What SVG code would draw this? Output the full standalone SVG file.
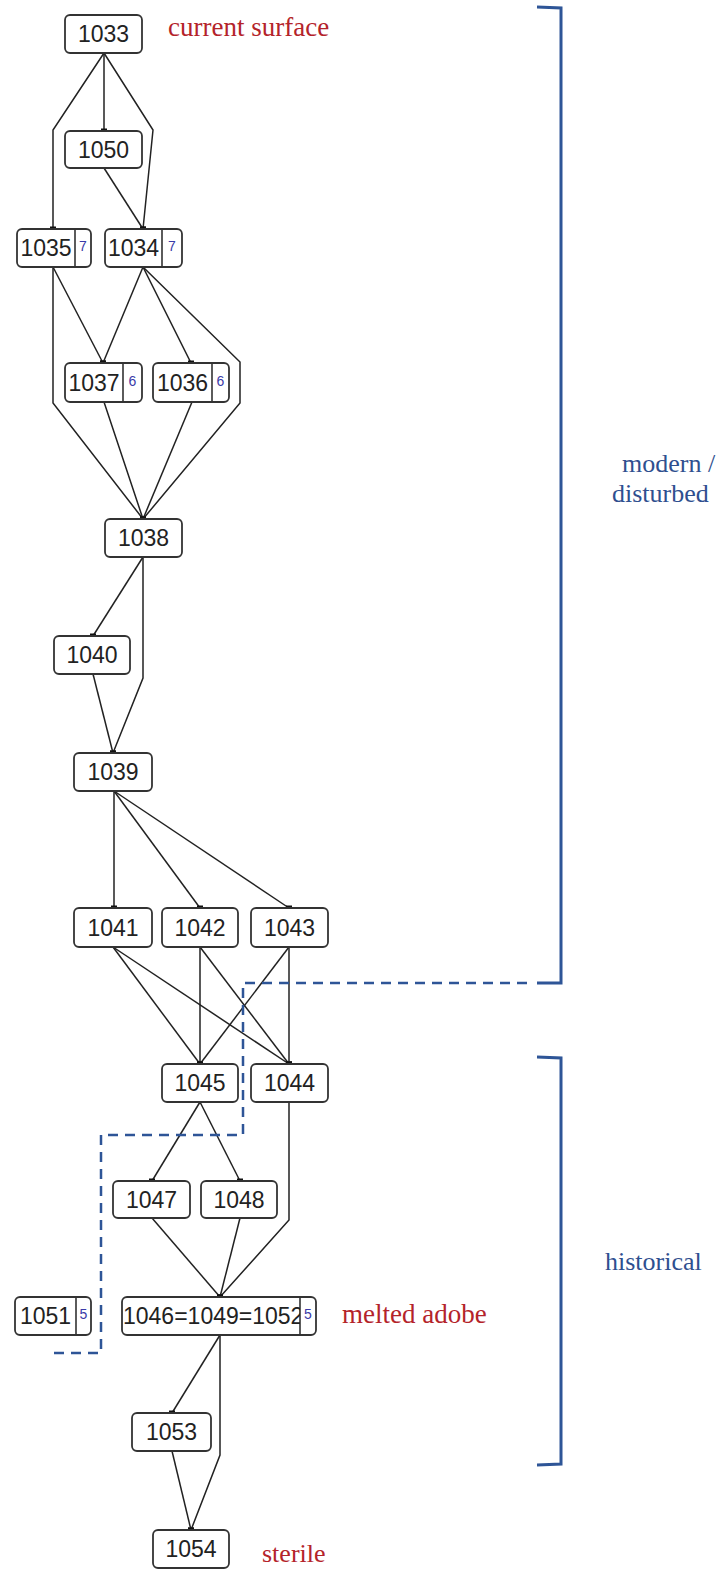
<svg xmlns="http://www.w3.org/2000/svg" width="726" height="1570" viewBox="0 0 726 1570">
<style>
.box{fill:#fff;stroke:#333;stroke-width:1.8}
.div{stroke:#333;stroke-width:1.6}
.lbl{font-family:"Liberation Sans",Arial,sans-serif;font-size:23px;fill:#222;text-anchor:middle}
.lblL{font-family:"Liberation Sans",Arial,sans-serif;font-size:23px;fill:#222}
.num{font-family:"Liberation Sans",Arial,sans-serif;font-size:14px;fill:#3a3aa8;text-anchor:middle}
.edge{fill:none;stroke:#222;stroke-width:1.5;marker-end:url(#dot)}
.red{font-family:"Liberation Serif","Times New Roman",serif;font-size:27px;fill:#b4232a}
.blue{font-family:"Liberation Serif","Times New Roman",serif;font-size:26px;fill:#2f4f8f}
.brk{fill:none;stroke:#2e5597;stroke-width:3}
.dash{fill:none;stroke:#2e5597;stroke-width:2.5;stroke-dasharray:10 7}
</style>
<defs>
<marker id="dot" markerUnits="userSpaceOnUse" markerWidth="8" markerHeight="8" refX="4" refY="4" orient="0">
<rect x="1" y="1.5" width="6" height="5" fill="#111"/>
</marker>
<clipPath id="clip1046"><rect x="122" y="1297" width="178" height="38"/></clipPath>
</defs>
<rect width="726" height="1570" fill="#fff"/>

<g id="connectors">
<path class="edge" d="M104,53 L53,130 L53,229"/>
<path class="edge" d="M104,53 L104,131"/>
<path class="edge" d="M104,53 L153,130 L143,229"/>
<path class="edge" d="M104,168 L143,229"/>
<path class="edge" d="M53,267 L103,363"/>
<path class="edge" d="M53,267 L53,403 L143,519"/>
<path class="edge" d="M143,267 L103,363"/>
<path class="edge" d="M143,267 L191,363"/>
<path class="edge" d="M143,267 L240,362 L240,403 L143,519"/>
<path class="edge" d="M104,402 L143,519"/>
<path class="edge" d="M192,402 L143,519"/>
<path class="edge" d="M143,557 L93,636"/>
<path class="edge" d="M143,557 L143,678 L113,753"/>
<path class="edge" d="M93,674 L113,753"/>
<path class="edge" d="M114,791 L114,908"/>
<path class="edge" d="M114,791 L200,908"/>
<path class="edge" d="M114,791 L289,908"/>
<path class="edge" d="M113,947 L200,1064"/>
<path class="edge" d="M113,947 L289,1064"/>
<path class="edge" d="M200,947 L200,1064"/>
<path class="edge" d="M200,947 L289,1064"/>
<path class="edge" d="M289,947 L200,1064"/>
<path class="edge" d="M289,947 L289,1064"/>
<path class="edge" d="M200,1102 L152,1181"/>
<path class="edge" d="M200,1102 L240,1181"/>
<path class="edge" d="M289,1102 L289,1220 L220,1297"/>
<path class="edge" d="M152,1218 L220,1297"/>
<path class="edge" d="M240,1218 L220,1297"/>
<path class="edge" d="M220,1335 L172,1413"/>
<path class="edge" d="M220,1335 L220,1455 L191,1530"/>
<path class="edge" d="M172,1451 L191,1530"/>
</g>

<g id="n1033"><rect class="box" x="65" y="15" width="77" height="38" rx="5"/><text class="lbl" x="103.5" y="42">1033</text></g>
<g id="n1050"><rect class="box" x="65" y="131" width="77" height="37" rx="5"/><text class="lbl" x="103.5" y="158">1050</text></g>
<g id="n1035"><rect class="box" x="17" y="229" width="74" height="38" rx="5"/><line class="div" x1="75" y1="229" x2="75" y2="267"/><text class="lbl" x="46" y="256">1035</text><text class="num" x="83" y="251">7</text></g>
<g id="n1034"><rect class="box" x="105" y="229" width="77" height="38" rx="5"/><line class="div" x1="162" y1="229" x2="162" y2="267"/><text class="lbl" x="133.5" y="256">1034</text><text class="num" x="172" y="251">7</text></g>
<g id="n1037"><rect class="box" x="65" y="363" width="77" height="39" rx="5"/><line class="div" x1="123" y1="363" x2="123" y2="402"/><text class="lbl" x="94" y="391">1037</text><text class="num" x="132.5" y="386">6</text></g>
<g id="n1036"><rect class="box" x="153" y="363" width="76" height="39" rx="5"/><line class="div" x1="212" y1="363" x2="212" y2="402"/><text class="lbl" x="182.5" y="391">1036</text><text class="num" x="220.5" y="386">6</text></g>
<g id="n1038"><rect class="box" x="105" y="519" width="77" height="38" rx="5"/><text class="lbl" x="143.5" y="546">1038</text></g>
<g id="n1040"><rect class="box" x="54" y="636" width="76" height="38" rx="5"/><text class="lbl" x="92" y="663">1040</text></g>
<g id="n1039"><rect class="box" x="74" y="753" width="78" height="38" rx="5"/><text class="lbl" x="113" y="780">1039</text></g>
<g id="n1041"><rect class="box" x="74" y="908" width="78" height="39" rx="5"/><text class="lbl" x="113" y="936">1041</text></g>
<g id="n1042"><rect class="box" x="162" y="908" width="76" height="39" rx="5"/><text class="lbl" x="200" y="936">1042</text></g>
<g id="n1043"><rect class="box" x="251" y="908" width="77" height="39" rx="5"/><text class="lbl" x="289.5" y="936">1043</text></g>
<g id="n1045"><rect class="box" x="162" y="1064" width="76" height="38" rx="5"/><text class="lbl" x="200" y="1091">1045</text></g>
<g id="n1044"><rect class="box" x="251" y="1064" width="77" height="38" rx="5"/><text class="lbl" x="289.5" y="1091">1044</text></g>
<g id="n1047"><rect class="box" x="113" y="1181" width="77" height="37" rx="5"/><text class="lbl" x="151.5" y="1208">1047</text></g>
<g id="n1048"><rect class="box" x="201" y="1181" width="76" height="37" rx="5"/><text class="lbl" x="239" y="1208">1048</text></g>
<g id="n1051"><rect class="box" x="15" y="1297" width="76" height="38" rx="5"/><line class="div" x1="76" y1="1297" x2="76" y2="1335"/><text class="lbl" x="45.5" y="1324">1051</text><text class="num" x="83.5" y="1319">5</text></g>
<g id="n1046"><rect class="box" x="122" y="1297" width="194" height="38" rx="5"/><line class="div" x1="300" y1="1297" x2="300" y2="1335"/><text class="lblL" x="123" y="1324" clip-path="url(#clip1046)">1046=1049=1052</text><text class="num" x="308" y="1319">5</text></g>
<g id="n1053"><rect class="box" x="132" y="1413" width="79" height="38" rx="5"/><text class="lbl" x="171.5" y="1440">1053</text></g>
<g id="n1054"><rect class="box" x="153" y="1530" width="76" height="38" rx="5"/><text class="lbl" x="191" y="1557">1054</text></g>

<g id="annotations">
<text class="red" x="168" y="36">current surface</text>
<text class="red" x="342" y="1323">melted adobe</text>
<text class="red" x="262" y="1562" style="font-size:26px">sterile</text>
<text class="blue" x="622" y="472">modern /</text>
<text class="blue" x="612" y="502">disturbed</text>
<text class="blue" x="605" y="1270">historical</text>
<path class="brk" d="M537,7 L561,8 L561,983 L537,983"/>
<path class="brk" d="M537,1057 L561,1058 L561,1464 L537,1465"/>
<path class="dash" d="M527,983 L243,983 L243,1135 L101,1135 L101,1353 L50,1353"/>
</g>
</svg>
